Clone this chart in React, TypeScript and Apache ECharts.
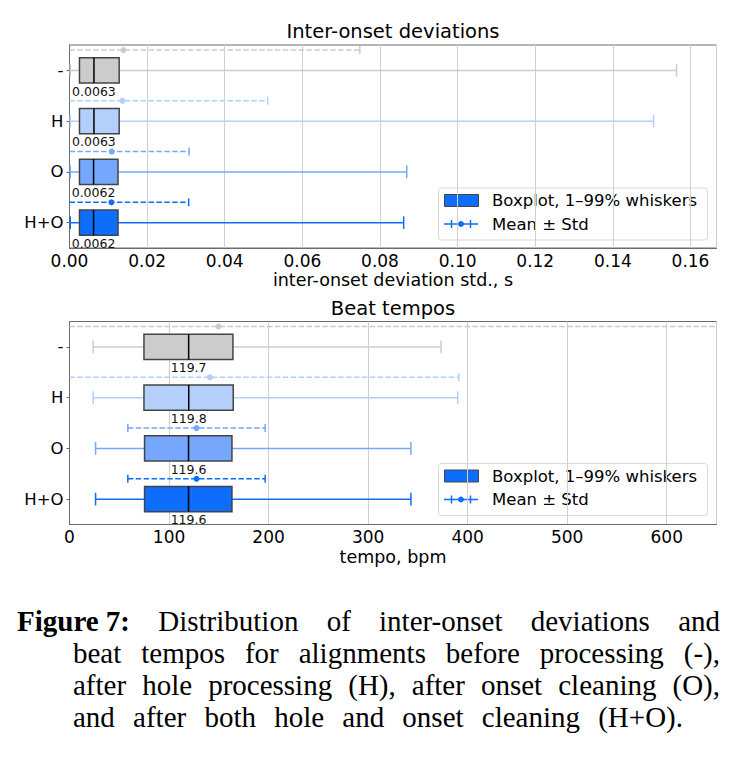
import React, { useEffect, useRef } from "react";
import * as echarts from "echarts";

// Alignment variants, top to bottom
const categories = ["-", "H", "O", "H+O"];
const variantColors = ["#cccccc", "#b3cffa", "#75a8fd", "#0d6efd"];

// Inter-onset deviation std. (s): 1% / 99% whiskers, quartiles, median, mean, std
const devLow = [0.0002, 0.0002, 0.0002, 0.0002];
const devQ1 = [0.00257, 0.00257, 0.00257, 0.00257];
const devMedian = [0.0063, 0.0063, 0.0062, 0.0062];
const devQ3 = [0.0128, 0.0128, 0.0125, 0.0125];
const devHigh = [0.1564, 0.1505, 0.0869, 0.0861];
const devMean = [0.0139, 0.01365, 0.0109, 0.0108];
const devStd = [0.0609, 0.0374, 0.0199, 0.0199];

// Beat tempos (bpm)
const tempoLow = [23.8, 23.8, 26.2, 26.2];
const tempoQ1 = [74.8, 74.8, 75.4, 75.4];
const tempoMedian = [119.7, 119.8, 119.6, 119.6];
const tempoQ3 = [164.2, 164.5, 163.2, 163.2];
const tempoHigh = [373.3, 390.0, 343.0, 343.0];
const tempoMean = [149.7, 141.1, 127.6, 127.6];
const tempoStd = [560.0, 250.0, 69.0, 69.0];

// Axis extents and tick steps
const devAxis = { max: 0.1667, step: 0.02, digits: 2 };
const tempoAxis = { max: 650, step: 100, digits: 0 };

// Figure caption, one entry per printed line
const captionLabel = "Figure 7:";
const captionLines = [
  "Distribution of inter-onset deviations and",
  "beat tempos for alignments before processing (-),",
  "after hole processing (H), after onset cleaning (O),",
  "and after both hole and onset cleaning (H+O).",
];

const SANS = "DejaVu Sans";
const SERIF = "Liberation Serif";
const CAPTION_SIZE = 29;
const EDGE = "#444444";
const FRAME = "#6b6b6b";

function rows(
  low: number[], q1: number[], med: number[], q3: number[],
  high: number[], mean: number[], std: number[]
) {
  return categories.map((_, i) => [i, low[i], q1[i], med[i], q3[i], high[i], mean[i], std[i]]);
}

function makeRenderItem(labelDigits: number) {
  return (params: any, api: any) => {
    const cs = params.coordSys;
    const i = api.value(0);
    const color = variantColors[i];
    const band = api.size([0, 1])[1];
    const px = (v: number) => api.coord([v, i])[0];
    const yc = api.coord([0, i])[1];
    const left = cs.x;
    const right = cs.x + cs.width;
    const inside = (x: number) => x >= left - 0.5 && x <= right + 0.5;
    const clampX = (x: number) => Math.max(left, Math.min(right, x));

    const low = api.value(1), q1 = api.value(2), med = api.value(3);
    const q3 = api.value(4), high = api.value(5), mean = api.value(6), std = api.value(7);

    const boxH = band * 0.5;
    const capH = band * 0.25;
    const xLow = px(low), xQ1 = px(q1), xMed = px(med), xQ3 = px(q3), xHigh = px(high);

    const children: any[] = [];
    // whiskers (1% .. 99%)
    children.push({
      type: "line",
      shape: { x1: clampX(xLow), y1: yc, x2: clampX(xHigh), y2: yc },
      style: { stroke: color, lineWidth: 1.5 },
    });
    [xLow, xHigh].forEach((x) => {
      if (inside(x)) {
        children.push({
          type: "line",
          shape: { x1: x, y1: yc - capH / 2, x2: x, y2: yc + capH / 2 },
          style: { stroke: color, lineWidth: 1.5 },
        });
      }
    });
    // interquartile box
    children.push({
      type: "rect",
      shape: { x: xQ1, y: yc - boxH / 2, width: xQ3 - xQ1, height: boxH },
      style: { fill: color, stroke: EDGE, lineWidth: 1.5 },
    });
    // median
    children.push({
      type: "line",
      shape: { x1: xMed, y1: yc - boxH / 2, x2: xMed, y2: yc + boxH / 2 },
      style: { stroke: "#000000", lineWidth: 1.5 },
    });
    children.push({
      type: "text",
      x: xMed,
      y: yc + boxH / 2 + 1.5,
      style: {
        text: med.toFixed(labelDigits),
        textAlign: "center",
        textVerticalAlign: "top",
        fontSize: 12.5,
        fontFamily: SANS,
        fill: "#111111",
      },
    });
    // mean ± std
    const yM = yc - band * 0.4;
    const xS = px(mean - std), xE = px(mean + std), xMean = px(mean);
    children.push({
      type: "line",
      shape: { x1: clampX(xS), y1: yM, x2: clampX(xE), y2: yM },
      style: { stroke: color, lineWidth: 1.5, lineDash: [5.5, 2.4] },
    });
    [xS, xE].forEach((x) => {
      if (inside(x)) {
        children.push({
          type: "line",
          shape: { x1: x, y1: yM - 4, x2: x, y2: yM + 4 },
          style: { stroke: color, lineWidth: 1.5 },
        });
      }
    });
    children.push({
      type: "circle",
      shape: { cx: xMean, cy: yM, r: 3 },
      style: { fill: color },
    });
    return { type: "group", children };
  };
}

function xAxisFor(gridIndex: number, ax: { max: number; step: number; digits: number }, name: string) {
  return {
    type: "value",
    gridIndex,
    min: 0,
    max: ax.max,
    interval: ax.step,
    name,
    nameLocation: "middle",
    nameGap: 23,
    nameTextStyle: { fontFamily: SANS, fontSize: 17.5, color: "#000000" },
    axisLine: { show: true, lineStyle: { color: FRAME, width: 1 } },
    axisTick: { show: false },
    axisLabel: {
      fontFamily: SANS,
      fontSize: 17,
      color: "#000000",
      margin: 4,
      formatter: (v: number) => {
        const k = v / ax.step;
        return Math.abs(k - Math.round(k)) < 1e-6 ? v.toFixed(ax.digits) : "";
      },
    },
    splitLine: { show: true, lineStyle: { color: "#d0d0d0", width: 1 } },
  };
}

function yAxisFor(gridIndex: number) {
  return {
    type: "category",
    gridIndex,
    data: categories,
    inverse: true,
    axisLine: { show: true, lineStyle: { color: FRAME, width: 1 } },
    axisTick: { show: true, alignWithLabel: true, length: 3, lineStyle: { color: FRAME } },
    axisLabel: { fontFamily: SANS, fontSize: 16.5, color: "#000000", margin: 6 },
    splitLine: { show: false },
  };
}

function legendGroup(top: number) {
  const lineY = top + 36;
  return {
    type: "group",
    children: [
      {
        type: "rect",
        shape: { x: 438.5, y: top, width: 269, height: 52, r: 3 },
        style: { fill: "rgba(255,255,255,0.8)", stroke: "#d8d8d8", lineWidth: 1 },
      },
      {
        type: "rect",
        shape: { x: 444.5, y: top + 6.5, width: 34, height: 12 },
        style: { fill: variantColors[3], stroke: EDGE, lineWidth: 1 },
      },
      {
        type: "text",
        x: 492,
        y: top + 12.5,
        style: { text: "Boxplot, 1–99% whiskers", fontFamily: SANS, fontSize: 16.5, fill: "#000000", textVerticalAlign: "middle" },
      },
      {
        type: "line",
        shape: { x1: 444, y1: lineY, x2: 478, y2: lineY },
        style: { stroke: variantColors[3], lineWidth: 1.5 },
      },
      {
        type: "line",
        shape: { x1: 451.5, y1: lineY - 4, x2: 451.5, y2: lineY + 4 },
        style: { stroke: variantColors[3], lineWidth: 1.5 },
      },
      {
        type: "line",
        shape: { x1: 470.5, y1: lineY - 4, x2: 470.5, y2: lineY + 4 },
        style: { stroke: variantColors[3], lineWidth: 1.5 },
      },
      { type: "circle", shape: { cx: 461, cy: lineY, r: 3 }, style: { fill: variantColors[3] } },
      {
        type: "text",
        x: 492,
        y: lineY,
        style: { text: "Mean ± Std", fontFamily: SANS, fontSize: 16.5, fill: "#000000", textVerticalAlign: "middle" },
      },
    ],
  };
}

// Lays out the caption word by word: hanging indent, words spread between the margins.
function captionGraphics(): any[] {
  const ctx = document.createElement("canvas").getContext("2d");
  const measure = (text: string, bold: boolean) => {
    if (!ctx) return text.length * CAPTION_SIZE * 0.45;
    ctx.font = `${bold ? "bold " : ""}${CAPTION_SIZE}px "${SERIF}"`;
    return ctx.measureText(text).width;
  };
  const rightEdges = [720, 720, 720, 683];
  const firstLeft = 17;
  const indent = 73;
  const baselines = [631, 663, 695, 727];
  const out: any[] = [];
  const put = (text: string, x: number, baseline: number, bold: boolean) => {
    out.push({
      type: "text",
      x,
      y: baseline - CAPTION_SIZE * 0.3375,
      style: {
        text,
        fontFamily: SERIF,
        fontSize: CAPTION_SIZE,
        fontWeight: bold ? "bold" : "normal",
        fill: "#000000",
        textVerticalAlign: "middle",
      },
    });
  };
  captionLines.forEach((line, li) => {
    const words = line.split(" ").map((t) => ({ t, bold: false }));
    if (li === 0) words.unshift({ t: captionLabel, bold: true });
    const left = li === 0 ? firstLeft : indent;
    const widths = words.map((w) => measure(w.t, w.bold));
    const total = widths.reduce((a, b) => a + b, 0);
    const gap = (rightEdges[li] - left - total) / (words.length - 1);
    let x = left;
    words.forEach((w, wi) => {
      put(w.t, x, baselines[li], w.bold);
      x += widths[wi] + gap;
    });
  });
  return out;
}

export default function App() {
  const ref = useRef<HTMLDivElement>(null);

  useEffect(() => {
    if (!ref.current) return;
    const chart = echarts.init(ref.current, undefined, { renderer: "svg" });

    const option: any = {
      animation: false,
      backgroundColor: "#ffffff",
      grid: [
        { left: 69.5, top: 45, width: 647, height: 203, show: true, borderColor: FRAME, borderWidth: 1 },
        { left: 69.5, top: 321.5, width: 647, height: 203, show: true, borderColor: FRAME, borderWidth: 1 },
      ],
      xAxis: [
        xAxisFor(0, devAxis, "inter-onset deviation std., s"),
        xAxisFor(1, tempoAxis, "tempo, bpm"),
      ],
      yAxis: [yAxisFor(0), yAxisFor(1)],
      series: [
        {
          type: "custom",
          name: "Inter-onset deviations",
          xAxisIndex: 0,
          yAxisIndex: 0,
          renderItem: makeRenderItem(4),
          encode: { x: [1, 2, 3, 4, 5], y: 0 },
          data: rows(devLow, devQ1, devMedian, devQ3, devHigh, devMean, devStd),
        },
        {
          type: "custom",
          name: "Beat tempos",
          xAxisIndex: 1,
          yAxisIndex: 1,
          renderItem: makeRenderItem(1),
          encode: { x: [1, 2, 3, 4, 5], y: 0 },
          data: rows(tempoLow, tempoQ1, tempoMedian, tempoQ3, tempoHigh, tempoMean, tempoStd),
        },
      ],
      graphic: [
        {
          type: "text",
          x: 393,
          y: 31.5,
          style: { text: "Inter-onset deviations", fontFamily: SANS, fontSize: 19.5, fill: "#000000", textAlign: "center", textVerticalAlign: "middle" },
        },
        {
          type: "text",
          x: 393,
          y: 308.5,
          style: { text: "Beat tempos", fontFamily: SANS, fontSize: 19.5, fill: "#000000", textAlign: "center", textVerticalAlign: "middle" },
        },
        legendGroup(188),
        legendGroup(463.5),
        ...captionGraphics(),
      ],
    };

    chart.setOption(option);
    return () => chart.dispose();
  }, []);

  return (
    <div
      ref={ref}
      style={{ position: "absolute", left: 0, top: 0, width: 741, height: 761, background: "#ffffff" }}
    />
  );
}
